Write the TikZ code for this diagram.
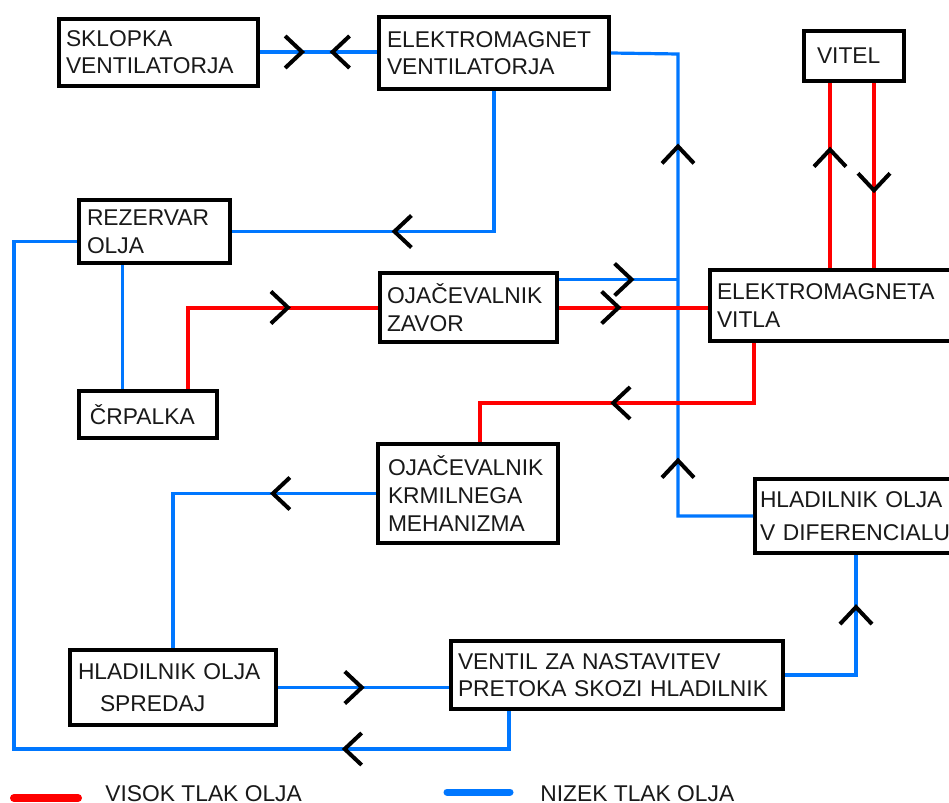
\documentclass[tikz,border=0pt]{standalone}
\usepackage{fontspec}
\setmainfont{Liberation Sans}
\definecolor{hired}{RGB}{255,0,0}
\definecolor{loblue}{RGB}{0,119,255}

\begin{document}
\begin{tikzpicture}[x=0.5pt, y=-0.5pt,
    box/.style n args={3}{draw, line width=2pt, rectangle, align=left, inner sep=0pt,
        text=black!90, font=\fontsize{11.4}{13.8}\selectfont,
        minimum width=#1, minimum height=#2, text width=#3},
    hi/.style={draw=hired, line width=2pt},
    lo/.style={draw=loblue, line width=1.6pt},
    chev/.style={draw=black, line width=2pt},
    chevR/.pic={\draw[chev] (-17,-16) -- (0,0) -- (-17,16);},
    chevL/.pic={\draw[chev] (17,-16) -- (0,0) -- (17,16);},
    chevU/.pic={\draw[chev] (-16,17) -- (0,0) -- (16,17);},
    chevD/.pic={\draw[chev] (-16,-17) -- (0,0) -- (16,-17);},
    legend/.style={anchor=base west, inner sep=0pt, text=black!90, font=\fontsize{11.4}{13.8}\selectfont}]
    \useasboundingbox (0,0) rectangle (949,803);
    \clip (0,0) rectangle (949,803);
    \fill[white] (0,0) rectangle (949,803);

    \node[box={99.5pt}{33.5pt}{92.5pt}] (svent) at (158.5,52) {SKLOPKA\\VENTILATORJA};
    \node[box={115pt}{36pt}{107pt}] (event) at (494,53) {ELEKTROMAGNET\\VENTILATORJA};
    \node[box={50pt}{25pt}{37pt}] (vitel) at (854,56) {VITEL};
    \node[box={75.5pt}{31.5pt}{67.5pt}] (rez) at (154.5,231.5) {REZERVAR\\OLJA};
    \node[box={69pt}{23.5pt}{58pt}] (crp) at (148,414.5) {ČRPALKA};
    \node[box={88.5pt}{34.5pt}{81.5pt}] (zavor) at (468.5,307.5) {OJAČEVALNIK\\ZAVOR};
    \node[box={125pt}{35.5pt}{118pt}] (vitla) at (835,305.5) {ELEKTROMAGNETA\\VITLA};
    \node[box={90pt}{49.5pt}{80pt}] (krm) at (468,493.5) {OJAČEVALNIK\\KRMILNEGA\\MEHANIZMA};
    \node[box={101pt}{37pt}{96pt}] (hdif) at (856,516) {HLADILNIK OLJA\\[3pt]V DIFERENCIALU};
    \node[box={103pt}{37.5pt}{95pt}] (spr) at (173,687.5) {HLADILNIK OLJA\\[2pt]\hspace*{11pt}SPREDAJ};
    \node[box={166pt}{34pt}{159pt}] (ventil) at (617,675) {VENTIL ZA NASTAVITEV\\PRETOKA SKOZI HLADILNIK};

    \coordinate (riser) at (678,54);
    \coordinate (ret) at (14,749);

    \draw[lo] (svent.east) -- pic[pos=0.36]{chevR} pic[pos=0.62]{chevL} (svent.east -| event.west);
    \draw[lo] (hdif.west) -| pic[pos=0.56]{chevU} pic[pos=0.9]{chevU} (riser) -- (event.east);
    \draw[lo] ([yshift=14pt]zavor.east) -- pic[pos=0.61]{chevR} ([yshift=14pt]zavor.east -| riser);
    \draw[hi] (zavor.east) -- pic[pos=0.4]{chevR} (zavor.east -| vitla.west);
    \draw[lo] (event.south) |- pic[pos=0.69]{chevL} (rez.east);
    \draw[lo] ([xshift=-54pt]ventil.south) |- pic[pos=0.666]{chevL} (ret) |- ([yshift=-5pt]rez.west);
    \draw[lo] ([xshift=-16pt]rez.south) -- ([xshift=-16pt]rez.south |- crp.north);
    \draw[hi] ([xshift=20pt]crp.north) |- pic[pos=0.763]{chevR} (zavor.west);
    \draw[hi] ([xshift=-12pt]vitel.south |- vitla.north) -- pic[pos=0.64]{chevU} ([xshift=-12pt]vitel.south);
    \draw[hi] ([xshift=10pt]vitel.south) -- pic[pos=0.58]{chevD} ([xshift=10pt]vitel.south |- vitla.north);
    \draw[hi] ([xshift=-40.5pt]vitla.south) -- ++(0,60) -| pic[pos=0.257]{chevL} ([xshift=6pt]krm.north);
    \draw[lo] (krm.west) -| pic[pos=0.254]{chevL} (spr.north);
    \draw[lo] (spr.east) -- pic[pos=0.49]{chevR} (spr.east -| ventil.west);
    \draw[lo] (ventil.east) -| pic[pos=0.783]{chevU} (hdif.south);

    \draw[hired, line width=4pt, line cap=round] (14,798) -- (78,798);
    \node[legend] (visok) at (105,801) {VISOK TLAK OLJA};
    \draw[loblue, line width=3.5pt, line cap=round] (447,792) -- (510,792);
    \node[legend] (nizek) at (540,801) {NIZEK TLAK OLJA};
\end{tikzpicture}
\end{document}
